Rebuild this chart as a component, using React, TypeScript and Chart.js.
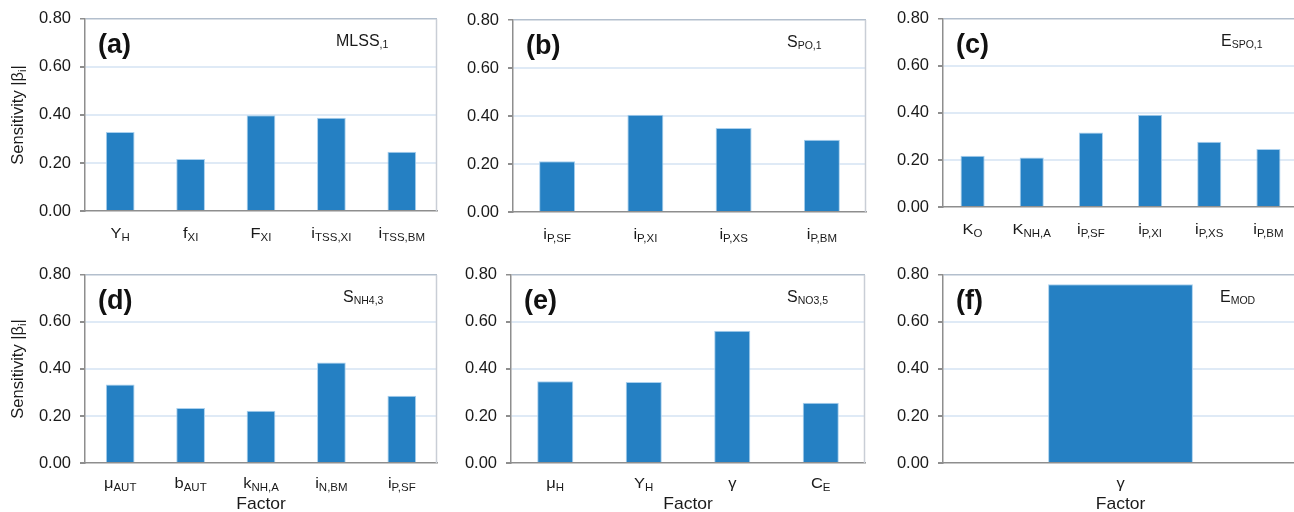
import React, { useEffect, useRef } from "react";
import { Chart, registerables } from "chart.js";

Chart.register(...registerables);

// ---------- data ----------
const catsA = ["Y_{H}", "f_{XI}", "F_{XI}", "i_{TSS,XI}", "i_{TSS,BM}"];
const valsA = [0.329, 0.217, 0.399, 0.388, 0.247];

const catsB = ["i_{P,SF}", "i_{P,XI}", "i_{P,XS}", "i_{P,BM}"];
const valsB = [0.211, 0.405, 0.35, 0.301];

const catsC = ["K_{O}", "K_{NH,A}", "i_{P,SF}", "i_{P,XI}", "i_{P,XS}", "i_{P,BM}"];
const valsC = [0.218, 0.21, 0.317, 0.392, 0.277, 0.247];

const catsD = ["μ_{AUT}", "b_{AUT}", "k_{NH,A}", "i_{N,BM}", "i_{P,SF}"];
const valsD = [0.334, 0.234, 0.222, 0.427, 0.286];

const catsE = ["μ_{H}", "Y_{H}", "γ", "C_{E}"];
const valsE = [0.348, 0.344, 0.562, 0.256];

const catsF = ["γ"];
const valsF = [0.76];

const panelLetters = ["(a)", "(b)", "(c)", "(d)", "(e)", "(f)"];
const panelTitles = ["MLSS_{,1}", "S_{PO,1}", "E_{SPO,1}", "S_{NH4,3}", "S_{NO3,5}", "E_{MOD}"];
const yTickLabels = ["0.00", "0.20", "0.40", "0.60", "0.80"];
const yAxisTitle = "Sensitivity |β_{i}|";
const xAxisTitle = "Factor";

// ---------- layout / style ----------
const FAM = '"Liberation Sans", Arial, Helvetica, sans-serif';
const BAR = "#2580c3";
const BAR_EDGE = "#a9d0ee";

type Layout = {
  left: number; top: number; w: number; h: number;
  yw: number; pt: number; xh: number; pr: number;
  showY: boolean; showX: boolean; titleDx: number;
};

const layouts: Layout[] = [
  { left: 0, top: 0, w: 440, h: 256, yw: 85, pt: 18, xh: 45, pr: 3, showY: true, showX: false, titleDx: 251 },
  { left: 440, top: 0, w: 430, h: 256, yw: 73, pt: 20, xh: 44, pr: 4, showY: false, showX: false, titleDx: 274 },
  { left: 870, top: 0, w: 428, h: 256, yw: 73, pt: 15, xh: 49, pr: 0, showY: false, showX: false, titleDx: 278 },
  { left: 0, top: 256, w: 440, h: 256, yw: 85, pt: 14, xh: 49, pr: 3, showY: true, showX: true, titleDx: 258 },
  { left: 440, top: 256, w: 430, h: 256, yw: 71, pt: 14, xh: 49, pr: 5, showY: false, showX: true, titleDx: 276 },
  { left: 870, top: 256, w: 428, h: 256, yw: 73, pt: 14, xh: 49, pr: 0, showY: false, showX: true, titleDx: 277 },
];

type Seg = { t: string; sub: boolean };
function parseRich(s: string): Seg[] {
  const out: Seg[] = [];
  const re = /_\{([^}]*)\}/g;
  let last = 0;
  let m: RegExpExecArray | null;
  while ((m = re.exec(s))) {
    if (m.index > last) out.push({ t: s.slice(last, m.index), sub: false });
    out.push({ t: m[1], sub: true });
    last = re.lastIndex;
  }
  if (last < s.length) out.push({ t: s.slice(last), sub: false });
  return out;
}

function drawRich(
  ctx: CanvasRenderingContext2D, s: string, x: number, yCenter: number,
  size: number, subSize: number, align: "left" | "center", bold = false, color = "#1a1a1a",
  subDrop = 0.16, sy = 1
) {
  const segs = parseRich(s);
  const fontFor = (sub: boolean) => `${bold ? "bold " : ""}${sub ? subSize : size}px ${FAM}`;
  let w = 0;
  for (const sg of segs) {
    ctx.font = fontFor(sg.sub);
    w += ctx.measureText(sg.t).width;
  }
  let cx = align === "center" ? -w / 2 : 0;
  const base = size * 0.36;
  ctx.save();
  ctx.translate(x, yCenter);
  ctx.scale(1, sy);
  ctx.fillStyle = color;
  ctx.textAlign = "left";
  ctx.textBaseline = "alphabetic";
  for (const sg of segs) {
    ctx.font = fontFor(sg.sub);
    ctx.fillText(sg.t, cx, sg.sub ? base + size * subDrop : base);
    cx += ctx.measureText(sg.t).width;
  }
  ctx.restore();
}

const allCats = [catsA, catsB, catsC, catsD, catsE, catsF];
const allVals = [valsA, valsB, valsC, valsD, valsE, valsF];

function near(a: number, b: number) {
  return Math.abs(a - b) < 1e-6;
}

function Panel({ idx }: { idx: number }) {
  const ref = useRef<HTMLCanvasElement | null>(null);
  const L = layouts[idx];
  useEffect(() => {
    const canvas = ref.current;
    if (!canvas) return;
    const cats = allCats[idx];
    const vals = allVals[idx];
    const deco = {
      id: "deco" + idx,
      afterDraw(chart: any) {
        const ctx = chart.ctx as CanvasRenderingContext2D;
        const a = chart.chartArea;
        // right frame line
        ctx.save();
        ctx.strokeStyle = "#c9ced6";
        ctx.lineWidth = 1.5;
        ctx.beginPath();
        ctx.moveTo(a.right - 0.5, a.top);
        ctx.lineTo(a.right - 0.5, a.bottom);
        ctx.stroke();
        ctx.restore();
        // x tick labels
        const xs = chart.scales.x;
        cats.forEach((c, i) => {
          drawRich(ctx, c, xs.getPixelForValue(i), a.bottom + (L.showX ? 20 : 21.5), 16.5, 11.5, "center", false, "#1a1a1a", 0.2, 0.88);
        });
        if (L.showX) {
          drawRich(ctx, xAxisTitle, (a.left + a.right) / 2, a.bottom + 40, 17.5, 12, "center", false, "#1a1a1a", 0.16, 0.9);
        }
        // panel letter and title
        drawRich(ctx, panelLetters[idx], a.left + 13, a.top + 24, 27, 16, "left", true, "#111");
        drawRich(ctx, panelTitles[idx], a.left + L.titleDx, a.top + 21, 16, 10.5, "left");
        // y title
        if (L.showY) {
          ctx.save();
          ctx.translate(17, (a.top + a.bottom) / 2);
          ctx.rotate(-Math.PI / 2);
          drawRich(ctx, yAxisTitle, 0, 0, 16.5, 11, "center");
          ctx.restore();
        }
      },
    };
    const chart = new Chart(canvas, {
      type: "bar",
      data: {
        labels: cats,
        datasets: [
          {
            data: vals,
            backgroundColor: BAR,
            borderColor: BAR_EDGE,
            borderWidth: 1,
            categoryPercentage: 0.8,
            barPercentage: 0.51,
          },
        ],
      },
      options: {
        animation: false,
        responsive: false,
        devicePixelRatio: 1,
        layout: { padding: { top: L.pt, right: L.pr, left: 0, bottom: 0 } },
        plugins: { legend: { display: false }, tooltip: { enabled: false }, title: { display: false } },
        scales: {
          x: {
            grid: { display: false, drawTicks: false },
            border: { display: true, color: "#8e8e8e", width: 1.5 },
            ticks: { display: false },
            afterFit: (s: any) => { s.height = L.xh; },
          },
          y: {
            min: 0,
            max: 0.8,
            afterFit: (s: any) => { s.width = L.yw; },
            afterBuildTicks: (s: any) => {
              s.ticks = yTickLabels.map((t) => ({ value: parseFloat(t) }));
            },
            ticks: {
              padding: 9,
              color: "#1a1a1a",
              font: { family: FAM, size: 16.5 },
              callback: (v: any) => {
                const f = yTickLabels.find((t) => near(parseFloat(t), Number(v)));
                return f ?? "";
              },
            },
            border: { display: true, color: "#8e8e8e", width: 1.5 },
            grid: {
              drawTicks: true,
              tickLength: 5,
              tickColor: "#8e8e8e",
              color: (c: any) => {
                const v = c.tick ? c.tick.value : 0;
                if (near(v, 0)) return "rgba(0,0,0,0)";
                if (near(v, 0.8)) return "#b3bfcd";
                return "#dfeaf6";
              },
              lineWidth: (c: any) => {
                const v = c.tick ? c.tick.value : 0;
                if (near(v, 0.8)) return 1.5;
                return 2;
              },
            },
          },
        },
      },
      plugins: [deco],
    } as any);
    return () => chart.destroy();
  }, [idx]);
  return (
    <canvas
      ref={ref}
      width={L.w}
      height={L.h}
      style={{ position: "absolute", left: L.left, top: L.top, width: L.w, height: L.h }}
    />
  );
}

export default function App() {
  return (
    <div
      style={{
        position: "fixed",
        left: 0,
        top: 0,
        width: 1294,
        height: 512,
        overflow: "hidden",
        background: "#ffffff",
      }}
    >
      {layouts.map((_, i) => (
        <Panel key={i} idx={i} />
      ))}
    </div>
  );
}
